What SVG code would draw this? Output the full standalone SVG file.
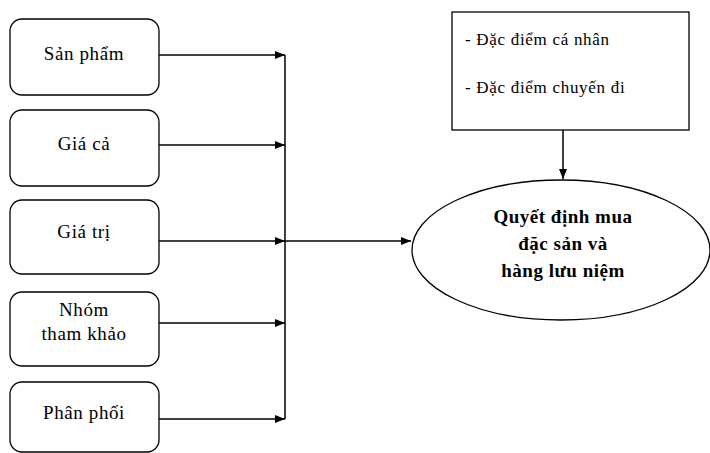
<svg xmlns="http://www.w3.org/2000/svg" width="710" height="453" viewBox="0 0 710 453">
<style>
.box{fill:#fff;stroke:#000;stroke-width:1.3}
.t{font-family:"Liberation Serif","DejaVu Serif",serif;font-size:19px;letter-spacing:0.6px;fill:#000;text-anchor:middle}
.s{font-family:"Liberation Serif","DejaVu Serif",serif;font-size:17px;letter-spacing:0.7px;fill:#000}
.b{font-family:"Liberation Serif","DejaVu Serif",serif;font-size:19px;letter-spacing:0.5px;font-weight:bold;fill:#000;text-anchor:middle}
.c{stroke:#000;stroke-width:1.5;fill:none}
</style>
<defs>
<marker id="ah" markerWidth="10" markerHeight="8" refX="10" refY="4" orient="auto" markerUnits="userSpaceOnUse">
<path d="M0,0 L10,4 L0,8 Z" fill="#000"/>
</marker>
</defs>
<g id="n1"><rect class="box" x="10" y="19" width="149" height="76" rx="12"/><text class="t" x="84" y="60">Sản phẩm</text></g>
<g id="n2"><rect class="box" x="10" y="110" width="149" height="76" rx="12"/><text class="t" x="84" y="150">Giá cả</text></g>
<g id="n3"><rect class="box" x="10" y="200" width="149" height="74" rx="12"/><text class="t" x="84" y="238">Giá trị</text></g>
<g id="n4"><rect class="box" x="10" y="292" width="149" height="74" rx="12"/><text class="t" x="84" y="316">Nhóm</text><text class="t" x="84" y="340">tham khảo</text></g>
<g id="n5"><rect class="box" x="10" y="382" width="149" height="70" rx="12"/><text class="t" x="84" y="419">Phân phối</text></g>
<g id="n6"><rect class="box" x="452" y="12" width="237" height="118"/><text class="s" x="465" y="45">- Đặc điểm cá nhân</text><text class="s" x="465" y="93">- Đặc điểm chuyến đi</text></g>
<g id="n7"><ellipse class="box" cx="561" cy="250" rx="149" ry="70"/><text class="b" x="563" y="223">Quyết định mua</text><text class="b" x="563" y="250">đặc sản và</text><text class="b" x="563" y="277">hàng lưu niệm</text></g>
<g id="connectors">
<line class="c" x1="159" y1="55" x2="285" y2="55" marker-end="url(#ah)"/>
<line class="c" x1="159" y1="145" x2="285" y2="145" marker-end="url(#ah)"/>
<line class="c" x1="159" y1="241" x2="285" y2="241" marker-end="url(#ah)"/>
<line class="c" x1="159" y1="323" x2="285" y2="323" marker-end="url(#ah)"/>
<line class="c" x1="159" y1="419" x2="285" y2="419" marker-end="url(#ah)"/>
<line class="c" x1="285" y1="55" x2="285" y2="419"/>
<line class="c" x1="285" y1="241" x2="411" y2="241" marker-end="url(#ah)"/>
<line class="c" x1="563" y1="130" x2="563" y2="179" marker-end="url(#ah)"/>
</g>
</svg>
